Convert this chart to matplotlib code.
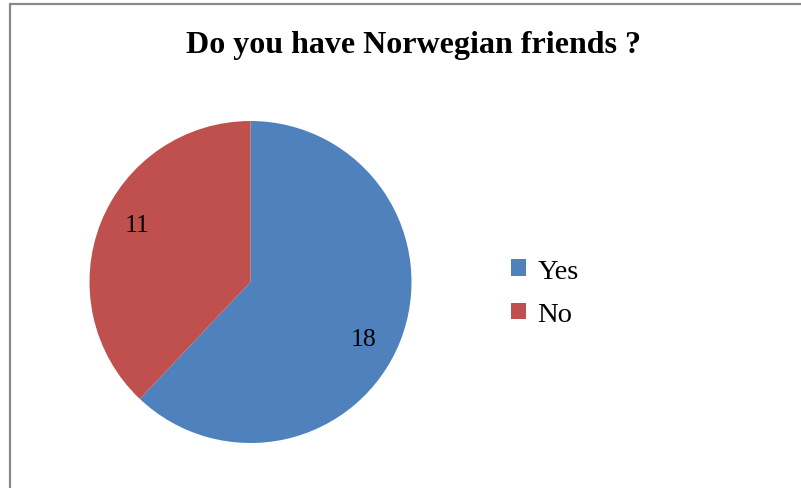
import matplotlib.pyplot as plt
from matplotlib.patches import Rectangle
import numpy as np

# Survey answers
answers = ["Yes", "No"]
counts = [18, 11]
colors = ["#4F81BD", "#C0504D"]

plt.rcParams["font.family"] = ["Liberation Serif", "DejaVu Serif"]

W, H = 801, 489
fig = plt.figure(figsize=(W / 100, H / 100), dpi=100)

# Gray chart-area frame (only left and top edges fall inside the canvas)
fig.patches.append(Rectangle((9.5 / W, -0.2), 1.5, 1.2 - 4.5 / H,
                             transform=fig.transFigure, fill=False,
                             edgecolor="#898989", linewidth=1.6))

# Pie axes placed so the circle sits at (250, 283) px with radius 161 px
cx, cy, r = 250.5, 283, 161
ax = fig.add_axes([(cx - r) / W, (H - cy - r) / H, 2 * r / W, 2 * r / H])
wedges, _ = ax.pie(counts, colors=colors, startangle=90, counterclock=False,
                   radius=1.0, wedgeprops=dict(linewidth=0))
ax.set_xlim(-1, 1)
ax.set_ylim(-1, 1)
ax.set_aspect("equal")
ax.axis("off")

# Value labels inside each slice
for w, n in zip(wedges, counts):
    mid = np.deg2rad((w.theta1 + w.theta2) / 2 - 5)
    ax.text(0.787 * np.cos(mid), 0.787 * np.sin(mid), str(n),
            ha="center", va="center", fontsize=18.5, color="black")

fig.text(413 / W, 1 - 53 / H, "Do you have Norwegian friends ?",
         ha="center", va="baseline", fontsize=23, fontweight="bold")

leg = fig.legend(wedges, answers, loc="center left",
                 bbox_to_anchor=(511 / W, 1 - 294 / H), frameon=False,
                 fontsize=20.5, handlelength=0.52, handleheight=0.52,
                 handletextpad=0.4, labelspacing=0.65, borderaxespad=0,
                 borderpad=0)

fig.savefig("out.png", dpi=100)
